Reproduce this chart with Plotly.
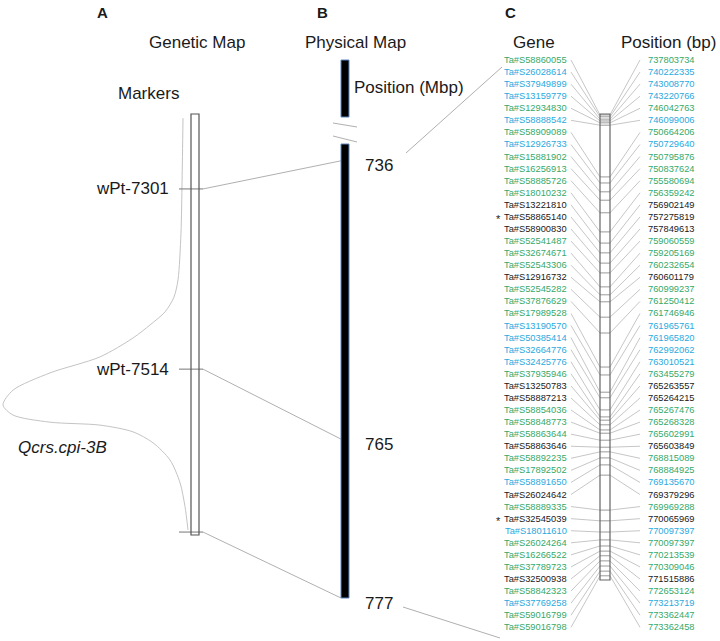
import plotly.graph_objects as go

# ---------------- data ----------------
gene_ids = ["Ta#S58860055", "Ta#S26028614", "Ta#S37949899", "Ta#S13159779", "Ta#S12934830",
            "Ta#S58888542", "Ta#S58909089", "Ta#S12926733", "Ta#S15881902", "Ta#S16256913",
            "Ta#S58885726", "Ta#S18010232", "Ta#S13221810", "Ta#S58865140", "Ta#S58900830",
            "Ta#S52541487", "Ta#S32674671", "Ta#S52543306", "Ta#S12916732", "Ta#S52545282",
            "Ta#S37876629", "Ta#S17989528", "Ta#S13190570", "Ta#S50385414", "Ta#S32664776",
            "Ta#S32425776", "Ta#S37935946", "Ta#S13250783", "Ta#S58887213", "Ta#S58854036",
            "Ta#S58848773", "Ta#S58863644", "Ta#S58863646", "Ta#S58892235", "Ta#S17892502",
            "Ta#S58891650", "Ta#S26024642", "Ta#S58889335", "Ta#S32545039", "Ta#S18011610",
            "Ta#S26024264", "Ta#S16266522", "Ta#S37789723", "Ta#S32500938", "Ta#S58842323",
            "Ta#S37769258", "Ta#S59016799", "Ta#S59016798"]
gene_pos_bp = [737803734, 740222335, 743008770, 743220766, 746042763,
               746099006, 750664206, 750729640, 750795876, 750837624,
               755580694, 756359242, 756902149, 757275819, 757849613,
               759060559, 759205169, 760232654, 760601179, 760999237,
               761250412, 761746946, 761965761, 761965820, 762992062,
               763010521, 763455279, 765263557, 765264215, 765267476,
               765268328, 765602991, 765603849, 768815089, 768884925,
               769135670, 769379296, 769969288, 770065969, 770097397,
               770097397, 770213539, 770309046, 771515886, 772653124,
               773213719, 773362447, 773362458]
gene_group = ["g", "b", "b", "b", "g", "b", "g", "b", "g", "g",
              "g", "g", "k", "k", "k", "g", "g", "g", "k", "g",
              "g", "g", "b", "b", "b", "b", "g", "k", "k", "g",
              "g", "g", "k", "g", "g", "b", "k", "g", "k", "b",
              "g", "g", "g", "k", "g", "b", "g", "g"]
gene_starred = ["Ta#S58865140", "Ta#S32545039"]
# position of each gene along the drawn chromosome segment (% of its length)
gene_bar_pct = [0.2, 0.6, 1.1, 1.5, 1.9, 2.4, 13.5, 14.8, 16.7, 18.5,
                21.2, 25.3, 27.7, 29.8, 32.0, 34.1, 37.1, 38.8, 40.3, 43.6,
                47.0, 54.3, 56.0, 59.7, 60.9, 63.5, 65.0, 65.7, 66.7, 67.8,
                68.5, 70.0, 71.5, 72.5, 73.8, 75.3, 77.5, 85.0, 87.3, 89.7,
                91.4, 92.7, 93.8, 94.8, 95.9, 97.0, 98.1, 99.1]

marker_names = ["wPt-7301", "wPt-7514", ""]
marker_gen_pct = [17.8, 60.6, 99.3]          # along the genetic map bar (%)
marker_phys_label = ["736", "765", "777"]     # physical position (Mbp)
marker_phys_pct = [3.7, 65.0, 100.0]          # along the physical map bar (%)

qtl_name = "Qcrs.cpi-3B"
qtl_pct = [1.0, 15.7, 28.3, 39.4, 43.5, 47.0, 50.1, 53.2, 57.7, 61.5, 65.6,
           69.1, 71.5, 73.2, 73.9, 75.5, 78.1, 82.2, 87.6, 93.3, 98.8]
qtl_lod = [0.27, 0.32, 0.38, 0.54, 0.76, 1.24, 2.05, 2.97, 4.76, 7.46, 9.46,
           10.0, 9.46, 7.46, 4.76, 2.97, 1.89, 0.97, 0.43, 0.16, 0.0]

# ---------------- layout constants ----------------
W, H = 720, 641
FONT = "Liberation Sans"
GEN_BAR = (191, 199, 114, 535)
PHYS_TOP = (341, 349, 60, 117)
PHYS_BAR = (341, 349, 144, 598)
GENE_BOX = (600, 610, 114, 580)
LABEL_Y0, LABEL_DY = 60, 12.07
COLORS = {"g": "#35a96a", "b": "#2aa9e0", "k": "#1a1a1a"}


def along(pct, bar):
    return bar[2] + pct / 100.0 * (bar[3] - bar[2])


fig = go.Figure()


def add_lines(segments, color, width):
    xs, ys = [], []
    for (x0, y0, x1, y1) in segments:
        xs += [x0, x1, None]
        ys += [y0, y1, None]
    fig.add_trace(go.Scatter(x=xs, y=ys, mode="lines", hoverinfo="skip",
                             line=dict(color=color, width=width)))


# QTL curve
qx = [188 - v * 18.5 for v in qtl_lod]
qy = [along(p, GEN_BAR) for p in qtl_pct]
fig.add_trace(go.Scatter(x=qx, y=qy, mode="lines", hoverinfo="skip",
                         line=dict(color="#c4c4c4", width=1, shape="spline", smoothing=0.8)))

# marker ticks and links genetic -> physical
gy = [along(p, GEN_BAR) for p in marker_gen_pct]
py = [along(p, PHYS_BAR) for p in marker_phys_pct]
add_lines([(179, y, 203, y) for y in gy], "#777777", 1)
add_lines([(203, a, PHYS_BAR[0], b) for a, b in zip(gy, py)], "#b0b0b0", 1)

# break marks on physical map
add_lines([(333, 123, 357, 127), (333, 136, 357, 142)], "#b0b0b0", 1)

# zoom lines physical -> gene panel
add_lines([(406, 153, 502, 67), (403, 607, 500, 638)], "#b0b0b0", 1)

# gene fan lines
label_y = [LABEL_Y0 + i * LABEL_DY for i in range(len(gene_ids))]
tick_y = [along(p, GENE_BOX) for p in gene_bar_pct]
add_lines([(571, ly, GENE_BOX[0], ty) for ly, ty in zip(label_y, tick_y)], "#b8b8b8", 0.8)
add_lines([(GENE_BOX[1], ty, 640, ly) for ly, ty in zip(label_y, tick_y)], "#b8b8b8", 0.8)
add_lines([(GENE_BOX[0], ty, GENE_BOX[1], ty) for ty in tick_y], "#9a9a9a", 1)

# bars
shapes = [
    dict(type="rect", x0=GEN_BAR[0], x1=GEN_BAR[1], y0=GEN_BAR[2], y1=GEN_BAR[3],
         line=dict(color="#555555", width=1.2), fillcolor="rgba(0,0,0,0)", layer="above"),
    dict(type="rect", x0=PHYS_TOP[0], x1=PHYS_TOP[1], y0=PHYS_TOP[2], y1=PHYS_TOP[3],
         line=dict(color="#5b86c0", width=1), fillcolor="#000000", layer="above"),
    dict(type="rect", x0=PHYS_BAR[0], x1=PHYS_BAR[1], y0=PHYS_BAR[2], y1=PHYS_BAR[3],
         line=dict(color="#5b86c0", width=1), fillcolor="#000000", layer="above"),
    dict(type="rect", x0=GENE_BOX[0], x1=GENE_BOX[1], y0=GENE_BOX[2], y1=GENE_BOX[3],
         line=dict(color="#666666", width=1.2), fillcolor="rgba(0,0,0,0)", layer="above"),
]

ann = []


def text(x, y, t, size=17, anchor="center", color="#1a1a1a", **kw):
    ann.append(dict(x=x, y=y, xref="x", yref="y", text=t, showarrow=False,
                    xanchor=anchor, yanchor="middle",
                    font=dict(family=FONT, size=size, color=color), **kw))


text(102, 12, "<b>A</b>", 15)
text(322, 12, "<b>B</b>", 15)
text(510, 12, "<b>C</b>", 15)
text(197, 42, "Genetic Map")
text(355, 42, "Physical Map")
text(534, 42, "Gene")
text(668, 42, "Position (bp)")
text(148, 93, "Markers")
text(352, 87, "Position (Mbp)", anchor="left")
for name, y in zip(marker_names, gy):
    if name:
        text(171, y, name, anchor="right")
for lab, y in zip(marker_phys_label, py):
    text(363, y + 5, lab, anchor="left")
text(62, 447, "<i>" + qtl_name + "</i>")

for gid, bp, grp, y in zip(gene_ids, gene_pos_bp, gene_group, label_y):
    c = COLORS[grp]
    text(569, y, gid, size=9.3, anchor="right", color=c)
    text(646, y, str(bp), size=9.3, anchor="left", color=c)
    if gid in gene_starred:
        text(498, y + 2, "*", size=11)

fig.update_layout(
    width=W, height=H, margin=dict(l=0, r=0, t=0, b=0),
    paper_bgcolor="white", plot_bgcolor="white", showlegend=False,
    xaxis=dict(range=[0, W], visible=False, fixedrange=True),
    yaxis=dict(range=[H, 0], visible=False, fixedrange=True),
    shapes=shapes, annotations=ann,
)
fig.write_html("out.html", config={"displayModeBar": False},
               post_script="document.body.style.margin='0';document.body.style.overflow='hidden';")
